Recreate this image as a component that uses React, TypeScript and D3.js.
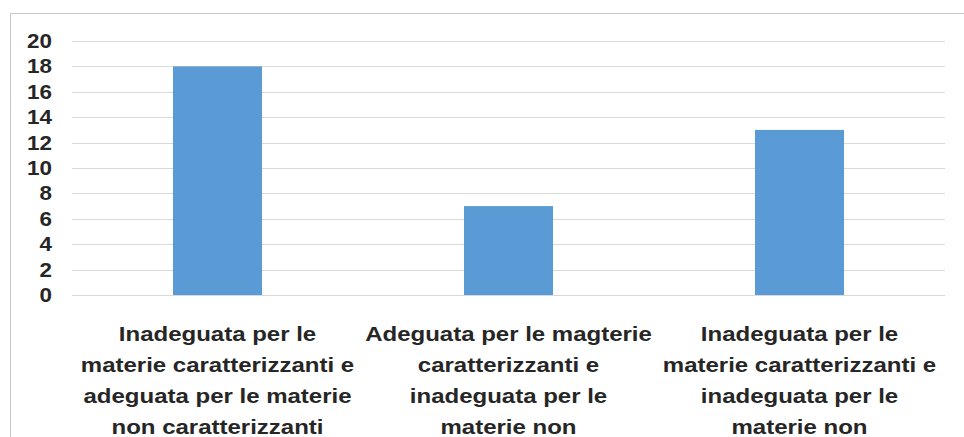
import React from "react";
import * as d3 from "d3";

const categories = [
  ["Inadeguata per le", "materie caratterizzanti e", "adeguata per le materie", "non caratterizzanti"],
  ["Adeguata per le magterie", "caratterizzanti e", "inadeguata per le", "materie non"],
  ["Inadeguata per le", "materie caratterizzanti e", "inadeguata per le", "materie non"],
];
const values = [18, 7, 13];
const yTicks = [0, 2, 4, 6, 8, 10, 12, 14, 16, 18, 20];

export default function App() {
  const W = 964, H = 437;
  const x0 = 72, x1 = 945, yTop = 41, yBot = 295;
  const x = d3.scaleBand<number>().domain(d3.range(values.length)).range([x0, x1]).padding(0);
  const y = d3.scaleLinear().domain([0, 20]).range([yBot, yTop]);
  const barW = x.bandwidth() * 0.306;
  const font = "'Liberation Sans', Arial, sans-serif";
  const baselines = [341, 372, 403, 434];
  return (
    <svg width={W} height={H} style={{ position: "absolute", left: 0, top: 0, background: "#fff" }}>
      <rect x={10.5} y={13.5} width={W} height={H} fill="#fff" stroke="#c8c8c8" strokeWidth={1} />
      {yTicks.map((t) => (
        <g key={t}>
          <line x1={x0} x2={x1} y1={Math.round(y(t)) + 0.5} y2={Math.round(y(t)) + 0.5} stroke="#d9d9d9" strokeWidth={1} />
          <text transform={`translate(52,${y(t)}) scale(1.12,1)`} textAnchor="end" dominantBaseline="central" fontFamily={font} fontWeight="bold" fontSize={20} fill="#262626">
            {t}
          </text>
        </g>
      ))}
      {values.map((v, i) => (
        <rect key={i} x={x(i)! + (x.bandwidth() - barW) / 2} y={y(v)} width={barW} height={y(0) - y(v)} fill="#5b9bd5" />
      ))}
      {categories.map((lines, i) => (
        <g key={i} transform={`translate(${x(i)! + x.bandwidth() / 2},0) scale(1.2,1)`}>
          <text textAnchor="middle" fontFamily={font} fontWeight="bold" fontSize={20} fill="#262626">
            {lines.map((l, j) => (
              <tspan key={j} x={0} y={baselines[j]}>
                {l}
              </tspan>
            ))}
          </text>
        </g>
      ))}
    </svg>
  );
}
